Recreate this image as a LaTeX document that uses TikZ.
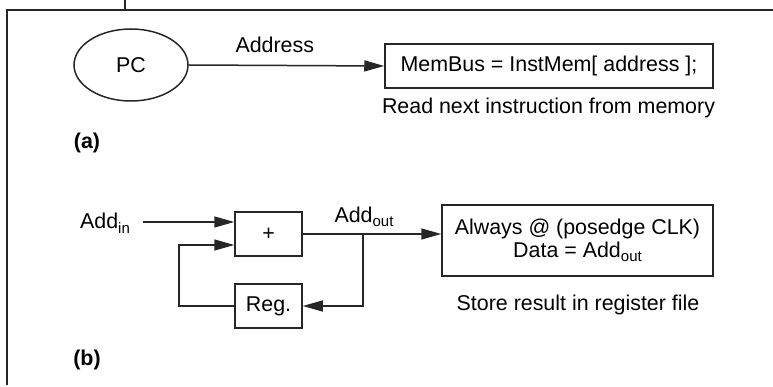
\documentclass[tikz,border=0pt]{standalone}
\usepackage{fontspec}
\setmainfont{Liberation Sans}
\usetikzlibrary{arrows.meta,shapes.geometric,calc}
\begin{document}
\begin{tikzpicture}[x=1pt,y=-1pt,
  font=\fontsize{21.4}{25}\selectfont,
  line/.style={draw=black!85, line width=1.5pt},
  arr/.style={line, -{Triangle[length=20pt,width=11pt]}},
  blk/.style={draw=black!85, line width=1.5pt, rectangle, inner sep=0pt},
  lbl/.style={inner sep=0pt}]
\useasboundingbox (0,0) rectangle (773,387);
% frame
\coordinate (f1) at (773,10);
\coordinate (f2) at (7,10);
\coordinate (f3) at (7,385);
\coordinate (t1) at (125,0);
\coordinate (t2) at (125,10);
\draw[line] (f1) -- (f2) -- (f3);
\draw[line] (t1) -- (t2);
% (a)
\node[ellipse, draw=black!85, line width=1.5pt, minimum width=114pt, minimum height=72pt, inner sep=0pt] (pc) at (131,65) {PC};
\node[blk, minimum width=328pt, minimum height=44pt] (mem) at (549,66) {MemBus = InstMem[ address ];};
\node[lbl] (read) at (548.5,108) {Read next instruction from memory};
\node[lbl] (la) at (87,143) {\bfseries (a)};
\draw[arr] (pc.east) -- (mem.west) node[lbl, pos=0.44, above=12pt] (addr) {Address};
% (b)
\node[blk, minimum width=67pt, minimum height=44pt] (plus) at (268.5,234) {+};
\node[blk, minimum width=67pt, minimum height=44pt] (reg) at (268.5,306) {Reg.};
\node[blk, minimum width=271pt, minimum height=71pt, align=center] (alw) at (577.5,240.5)
  {Always @ (posedge CLK)\\[-2pt] Data = Add\raisebox{-4.5pt}{\fontsize{15}{15}\selectfont out}};
\node[lbl] (store) at (578,305) {Store result in register file};
\node[lbl] (lb) at (87,360) {\bfseries (b)};
\node[lbl] (addin) at (105,223) {Add\raisebox{-4.5pt}{\fontsize{15}{15}\selectfont in}};
\node[lbl] (addout) at (364,217) {Add\raisebox{-4.5pt}{\fontsize{15}{15}\selectfont out}};
\coordinate (ins) at (143,222);
\coordinate (fbk) at (179,245);
\coordinate (br) at (363,234);
\draw[arr] (ins) -- (ins -| plus.west);
\draw[arr] (reg.west) -| (fbk) -- (fbk -| plus.west);
\draw[arr] (plus.east) -- (plus.east -| alw.west);
\draw[arr] (br) |- (reg.east);
\end{tikzpicture}
\end{document}
